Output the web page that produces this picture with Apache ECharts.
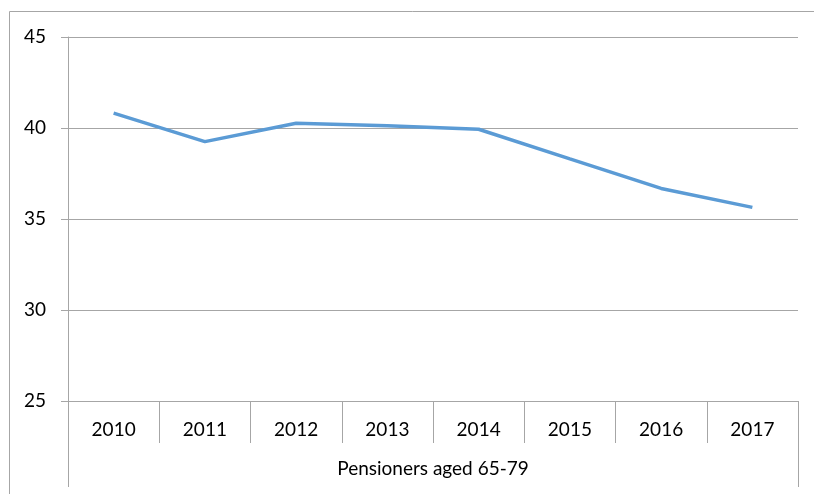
<!DOCTYPE html>
<html lang="en">
<head>
    <meta charset="utf-8">
    <title>Pensioners aged 65-79</title>
    <script src="https://cdn.jsdelivr.net/npm/echarts@6/dist/echarts.min.js"></script>
    <style>
        html, body { margin: 0; padding: 0; background: #fff; }
    </style>
</head>
<body>
<div id="main" style="width:814px;height:494px;"></div>
<script type="text/javascript">
    var years = ['2010', '2011', '2012', '2013', '2014', '2015', '2016', '2017'];
    var groupLabel = ['Pensioners aged 65-79'];
    var values = [40.82, 39.25, 40.26, 40.13, 39.93, 38.3, 36.68, 35.64];

    var gray = '#a6a6a6';
    var font = 'Lato, "Open Sans", sans-serif';

    var myChart = echarts.init(document.getElementById('main'));

    var option = {
        animation: false,
        grid: {left: 68, right: 16, top: 37, bottom: 93},
        graphic: [
            {
                type: 'rect',
                shape: {x: 9.5, y: 11.5, width: 900, height: 600},
                style: {fill: 'none', stroke: gray, lineWidth: 1},
                silent: true
            }
        ],
        xAxis: [
            {
                type: 'category',
                data: years,
                boundaryGap: true,
                axisLine: {lineStyle: {color: gray}},
                axisTick: {show: true, interval: 0, length: 42, lineStyle: {color: gray}},
                axisLabel: {color: '#000', fontSize: 19, fontFamily: font, margin: 19, interval: 0}
            },
            {
                type: 'category',
                data: groupLabel,
                position: 'bottom',
                boundaryGap: true,
                axisLine: {show: false},
                axisTick: {show: true, length: 86, lineStyle: {color: gray}},
                axisLabel: {color: '#000', fontSize: 19, fontFamily: font, margin: 58}
            }
        ],
        yAxis: {
            type: 'value',
            min: 25,
            max: 45,
            interval: 5,
            axisLine: {show: true, lineStyle: {color: gray}},
            axisTick: {show: true, length: 7, lineStyle: {color: gray}},
            axisLabel: {color: '#000', fontSize: 19, fontFamily: font, margin: 22},
            splitLine: {lineStyle: {color: gray}}
        },
        series: [
            {
                name: 'Pensioners aged 65-79',
                type: 'line',
                data: values,
                showSymbol: false,
                symbol: 'none',
                lineStyle: {color: '#5b9bd5', width: 3.5},
                itemStyle: {color: '#5b9bd5'}
            }
        ]
    };

    myChart.setOption(option);
</script>
</body>
</html>
